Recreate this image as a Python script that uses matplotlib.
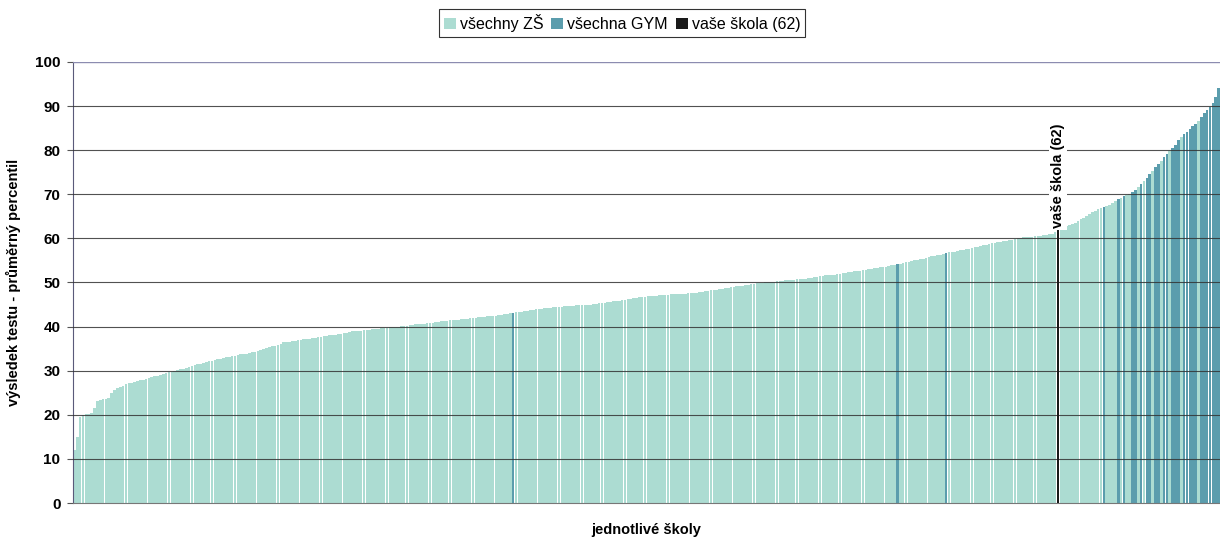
import numpy as np
import matplotlib
matplotlib.use("Agg")
import matplotlib.pyplot as plt
from matplotlib.patches import Patch

plt.rcParams['font.family'] = ['Liberation Sans', 'DejaVu Sans']

# průměrný percentil jednotlivých škol, seřazeno vzestupně
scores = [
    12.0, 15.0, 19.5, 20.0, 20.1, 20.2, 20.4, 21.5, 23.2, 23.4,
    23.5, 23.6, 23.8, 25.0, 25.6, 26.0, 26.3, 26.6, 26.9, 27.2,
    27.3, 27.5, 27.7, 27.8, 28.0, 28.1, 28.3, 28.5, 28.7, 28.9,
    29.0, 29.2, 29.4, 29.6, 29.8, 29.9, 30.1, 30.3, 30.5, 30.7,
    30.9, 31.1, 31.3, 31.5, 31.6, 31.8, 31.9, 32.1, 32.2, 32.4,
    32.6, 32.7, 32.9, 33.0, 33.2, 33.3, 33.4, 33.6, 33.7, 33.8,
    33.9, 34.1, 34.2, 34.3, 34.5, 34.7, 34.9, 35.1, 35.3, 35.5,
    35.7, 35.9, 36.1, 36.4, 36.5, 36.6, 36.7, 36.8, 36.9, 37.0,
    37.1, 37.2, 37.3, 37.4, 37.5, 37.6, 37.7, 37.8, 37.9, 38.0,
    38.1, 38.2, 38.3, 38.4, 38.5, 38.6, 38.8, 38.9, 39.0, 39.0,
    39.1, 39.2, 39.3, 39.3, 39.4, 39.5, 39.5, 39.6, 39.7, 39.7,
    39.8, 39.9, 39.9, 40.0, 40.1, 40.2, 40.2, 40.3, 40.4, 40.5,
    40.6, 40.6, 40.7, 40.8, 40.9, 40.9, 41.0, 41.1, 41.2, 41.3,
    41.3, 41.4, 41.5, 41.5, 41.6, 41.7, 41.7, 41.8, 41.9, 41.9,
    42.0, 42.1, 42.1, 42.2, 42.3, 42.4, 42.4, 42.5, 42.6, 42.7,
    42.8, 42.9, 43.0, 43.1, 43.2, 43.3, 43.4, 43.5, 43.6, 43.7,
    43.8, 43.9, 44.0, 44.1, 44.2, 44.3, 44.3, 44.4, 44.4, 44.5,
    44.5, 44.6, 44.6, 44.7, 44.7, 44.8, 44.8, 44.9, 44.9, 45.0,
    45.0, 45.1, 45.2, 45.3, 45.3, 45.4, 45.5, 45.6, 45.7, 45.8,
    45.9, 46.0, 46.1, 46.2, 46.3, 46.4, 46.5, 46.6, 46.7, 46.8,
    46.9, 46.9, 47.0, 47.0, 47.1, 47.1, 47.2, 47.2, 47.3, 47.3,
    47.4, 47.4, 47.5, 47.5, 47.6, 47.6, 47.7, 47.7, 47.8, 47.9,
    48.0, 48.1, 48.2, 48.3, 48.4, 48.5, 48.6, 48.7, 48.8, 48.9,
    49.0, 49.1, 49.2, 49.3, 49.4, 49.5, 49.6, 49.7, 49.8, 49.9,
    49.9, 50.0, 50.1, 50.1, 50.2, 50.3, 50.3, 50.4, 50.5, 50.5,
    50.6, 50.6, 50.7, 50.7, 50.8, 50.9, 51.0, 51.1, 51.2, 51.3,
    51.4, 51.5, 51.6, 51.7, 51.7, 51.8, 51.9, 52.0, 52.1, 52.2,
    52.3, 52.4, 52.5, 52.6, 52.7, 52.8, 52.9, 53.0, 53.1, 53.2,
    53.3, 53.4, 53.5, 53.6, 53.7, 53.9, 54.0, 54.2, 54.3, 54.4,
    54.6, 54.7, 54.9, 55.0, 55.1, 55.3, 55.4, 55.6, 55.7, 55.9,
    56.0, 56.2, 56.3, 56.5, 56.6, 56.8, 56.9, 57.0, 57.2, 57.3,
    57.4, 57.6, 57.7, 57.8, 58.0, 58.1, 58.3, 58.4, 58.6, 58.8,
    58.9, 59.0, 59.1, 59.2, 59.4, 59.5, 59.6, 59.7, 59.9, 60.0,
    60.1, 60.2, 60.3, 60.3, 60.4, 60.5, 60.6, 60.6, 60.7, 60.8,
    60.9, 61.0, 61.4, 62.0, 62.2, 62.5, 62.7, 63.0, 63.2, 63.5,
    63.9, 64.3, 64.7, 65.1, 65.5, 65.9, 66.3, 66.6, 66.8, 67.1,
    67.3, 67.5, 68.0, 68.5, 69.0, 69.2, 69.5, 69.8, 70.1, 70.5,
    71.0, 71.6, 72.3, 73.0, 73.8, 74.5, 75.3, 76.1, 76.8, 77.6,
    78.4, 79.1, 79.8, 80.4, 81.1, 82.4, 83.0, 83.6, 84.2, 84.8,
    85.4, 86.0, 86.6, 87.5, 88.4, 89.2, 89.8, 90.8, 92.0, 94.0,
]

# pořadí gymnázií v seřazeném seznamu
gym_idx = [153, 287, 304, 359, 364, 366, 369, 370, 372, 374, 375, 377, 378,
           380, 381, 383, 384, 385, 387, 388, 389, 390, 391, 393, 394, 395,
           396, 397, 398, 399]
our_idx = 343
our_label = "vaše škola (62)"

legend_labels = ["všechny ZŠ", "všechna GYM", "vaše škola (62)"]
y_ticks = [0, 10, 20, 30, 40, 50, 60, 70, 80, 90, 100]

C_ZS = '#acdcd2'
C_GYM = '#5b9dad'
C_OUR = '#1a1a1a'

colors = []
for i in range(len(scores)):
    if i == our_idx:
        colors.append(C_OUR)
    elif i in gym_idx:
        colors.append(C_GYM)
    else:
        colors.append(C_ZS)

fig = plt.figure(figsize=(12.2, 5.48), dpi=100)
ax = fig.add_axes([0.0598, 0.082, 0.9402, 0.805])

x = np.arange(len(scores))
ax.bar(x, scores, width=0.92, color=colors, linewidth=0, zorder=2)
# naše škola – tlustší černý sloupec
ax.bar(our_idx, scores[our_idx], width=0.9, color=C_OUR, linewidth=0, zorder=4)

for t in y_ticks[1:-1]:
    ax.axhline(t, color='#333333', lw=0.8, alpha=0.85, zorder=3)
ax.axhline(100, color='#8c8cb0', lw=1.0, zorder=3)

ax.set_xlim(-0.5, len(scores) - 0.5)
ax.set_ylim(0, 100)
ax.set_yticks(y_ticks)
ax.set_yticklabels([str(t) for t in y_ticks], fontsize=11, fontweight='bold')
ax.set_xticks([])
ax.tick_params(axis='y', length=4, width=0.8, color='#555555', pad=5)

for s in ['top', 'right']:
    ax.spines[s].set_visible(False)
ax.spines['left'].set_color('#5a5a7a')
ax.spines['bottom'].set_color('#777777')

ax.set_ylabel("výsledek testu - průměrný percentil", fontsize=10.5,
              fontweight='bold', labelpad=10)
ax.set_xlabel("jednotlivé školy", fontsize=10.5, fontweight='bold', labelpad=14)

ax.text(our_idx, scores[our_idx] + 0.3, our_label, rotation=90, ha='center',
        va='bottom', fontsize=10.5, fontweight='bold', zorder=5,
        bbox=dict(facecolor='white', edgecolor='none', pad=1.5))

handles = [Patch(facecolor=C_ZS), Patch(facecolor=C_GYM), Patch(facecolor=C_OUR)]
leg = fig.legend(handles, legend_labels, loc='center', bbox_to_anchor=(0.51, 0.958),
                 ncol=3, fontsize=11.5, frameon=True, fancybox=False,
                 handlelength=0.75, handleheight=0.75, handletextpad=0.25,
                 columnspacing=0.5, borderpad=0.3, borderaxespad=0)
leg.get_frame().set_edgecolor('black')
leg.get_frame().set_linewidth(0.8)

fig.savefig('out.png', dpi=100, facecolor='white')
